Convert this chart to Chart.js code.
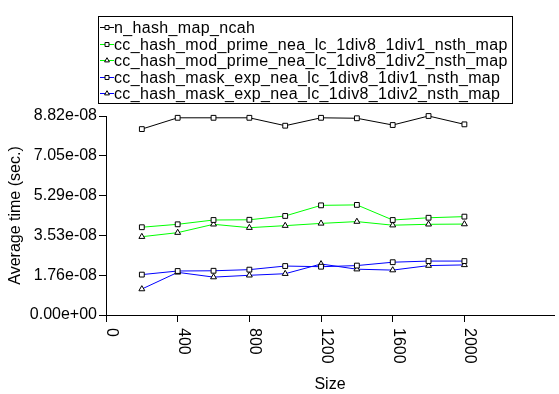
<!DOCTYPE html>
<html>
<head>
<meta charset="utf-8">
<script src="https://cdn.jsdelivr.net/npm/chart.js@4/dist/chart.umd.min.js"></script>
<style>
  html, body { margin: 0; padding: 0; background: #fff; }
  #wrap { width: 559px; height: 394px; }
</style>
</head>
<body>
<div id="wrap"><canvas id="chart" width="559" height="394"></canvas></div>
<script>
/* ── Data ────────────────────────────────────── */
const SIZES = [200, 400, 600, 800, 1000, 1200, 1400, 1600, 1800, 2000];

const SERIES_NAMES = [
  'n_hash_map_ncah',
  'cc_hash_mod_prime_nea_lc_1div8_1div1_nsth_map',
  'cc_hash_mod_prime_nea_lc_1div8_1div2_nsth_map',
  'cc_hash_mask_exp_nea_lc_1div8_1div1_nsth_map',
  'cc_hash_mask_exp_nea_lc_1div8_1div2_nsth_map',
];

const nHashMapNcah   = [8.24e-8, 8.74e-8, 8.74e-8, 8.74e-8, 8.39e-8, 8.74e-8, 8.72e-8, 8.42e-8, 8.82e-8, 8.45e-8];
const modPrimeDiv1   = [3.89e-8, 4.02e-8, 4.21e-8, 4.22e-8, 4.39e-8, 4.86e-8, 4.88e-8, 4.21e-8, 4.31e-8, 4.36e-8];
const modPrimeDiv2   = [3.47e-8, 3.65e-8, 4.02e-8, 3.87e-8, 3.96e-8, 4.06e-8, 4.14e-8, 3.98e-8, 4.02e-8, 4.03e-8];
const maskExpDiv1    = [1.79e-8, 1.95e-8, 1.96e-8, 2.01e-8, 2.17e-8, 2.14e-8, 2.19e-8, 2.34e-8, 2.39e-8, 2.39e-8];
const maskExpDiv2    = [1.15e-8, 1.89e-8, 1.68e-8, 1.76e-8, 1.83e-8, 2.26e-8, 2.03e-8, 1.99e-8, 2.19e-8, 2.22e-8];

const X_TICKS = [0, 400, 800, 1200, 1600, 2000];
const Y_MAX   = 8.82e-8;
const Y_TICKS = [0, 1.764e-8, 3.528e-8, 5.292e-8, 7.056e-8, 8.82e-8];
const Y_TICK_LABELS = ['0.00e+00', '1.76e-08', '3.53e-08', '5.29e-08', '7.05e-08', '8.82e-08'];

const COLORS = ['#000000', '#00ff00', '#00ff00', '#0000ff', '#0000ff'];
const MARKERS = ['rect', 'rect', 'triangle', 'rect', 'triangle'];
const VALUES = [nHashMapNcah, modPrimeDiv1, modPrimeDiv2, maskExpDiv1, maskExpDiv2];

const FONT = '"Liberation Sans", Arial, Helvetica, sans-serif';

Chart.defaults.font.family = FONT;
Chart.defaults.font.size = 16;
Chart.defaults.color = '#000';

/* ── Legend box drawn inside the canvas ───────── */
const boxLegend = {
  id: 'boxLegend',
  afterDraw(chart) {
    const ctx = chart.ctx;
    const left = 98, top = 16, right = 512, bottom = 103;
    ctx.save();
    ctx.strokeStyle = '#000';
    ctx.lineWidth = 1;
    ctx.strokeRect(left + 0.5, top + 0.5, right - left, bottom - top);
    ctx.font = '16px ' + FONT;
    ctx.letterSpacing = '0.35px';
    ctx.textBaseline = 'middle';
    ctx.textAlign = 'left';
    chart.data.datasets.forEach((ds, i) => {
      const y = Math.round(top + 11 + i * 16.6) + 0.5;
      ctx.strokeStyle = ds.borderColor;
      ctx.beginPath();
      ctx.moveTo(100, y);
      ctx.lineTo(114, y);
      ctx.stroke();
      ctx.fillStyle = '#fff';
      ctx.strokeStyle = '#000';
      Chart.helpers.drawPoint(ctx, { pointStyle: ds.pointStyle, radius: 2.8, borderWidth: 1 }, 107, y);
      ctx.fillStyle = '#000';
      ctx.fillText(ds.label, 114, y + 1);
    });
    ctx.restore();
  }
};

/* ── X tick labels turned 90° clockwise ───────── */
const downLabels = {
  id: 'downLabels',
  afterDraw(chart) {
    const xs = chart.scales.x;
    const ctx = chart.ctx;
    ctx.save();
    ctx.font = '16px ' + FONT;
    ctx.fillStyle = '#000';
    ctx.textAlign = 'left';
    ctx.textBaseline = 'alphabetic';
    xs.ticks.forEach(t => {
      const px = xs.getPixelForValue(t.value);
      ctx.save();
      ctx.translate(px + 1, xs.top + 13);
      ctx.rotate(Math.PI / 2);
      ctx.fillText(String(t.value), 0, 0);
      ctx.restore();
    });
    ctx.restore();
  }
};

const datasets = SERIES_NAMES.map((name, i) => ({
  label: name,
  data: SIZES.map((s, k) => ({ x: s, y: VALUES[i][k] })),
  borderColor: COLORS[i],
  borderWidth: 1,
  pointStyle: MARKERS[i],
  pointRadius: 3.4,
  pointBorderWidth: 1,
  pointBorderColor: '#000',
  pointBackgroundColor: '#fff',
  tension: 0,
  clip: false,
}));

new Chart(document.getElementById('chart'), {
  type: 'line',
  data: { datasets },
  options: {
    responsive: false,
    animation: false,
    layout: { padding: { top: 116, right: 2, left: 0, bottom: 0 } },
    plugins: { legend: { display: false }, tooltip: { enabled: false } },
    scales: {
      x: {
        type: 'linear',
        min: 0, max: 2500,
        afterBuildTicks: s => { s.ticks = X_TICKS.map(v => ({ value: v })); },
        afterFit: s => { s.height = 79; },
        ticks: { display: false },
        grid: { drawOnChartArea: false, drawTicks: true, tickLength: 7, color: '#000' },
        border: { display: true, color: '#000' },
        title: { display: true, text: 'Size', padding: { top: 0, bottom: 0 }, font: { size: 16 } },
      },
      y: {
        min: 0, max: Y_MAX,
        afterBuildTicks: s => { s.ticks = Y_TICKS.map(v => ({ value: v })); },
        afterFit: s => { s.width = 106; },
        ticks: { padding: 2, callback: (v, i) => Y_TICK_LABELS[i], font: { size: 16 } },
        grid: { drawOnChartArea: false, drawTicks: true, tickLength: 7, color: '#000' },
        border: { display: true, color: '#000' },
        title: { display: true, text: 'Average time (sec.)', padding: { top: 6, bottom: 0 }, font: { size: 16 } },
      },
    },
  },
  plugins: [boxLegend, downLabels],
});
</script>
</body>
</html>
